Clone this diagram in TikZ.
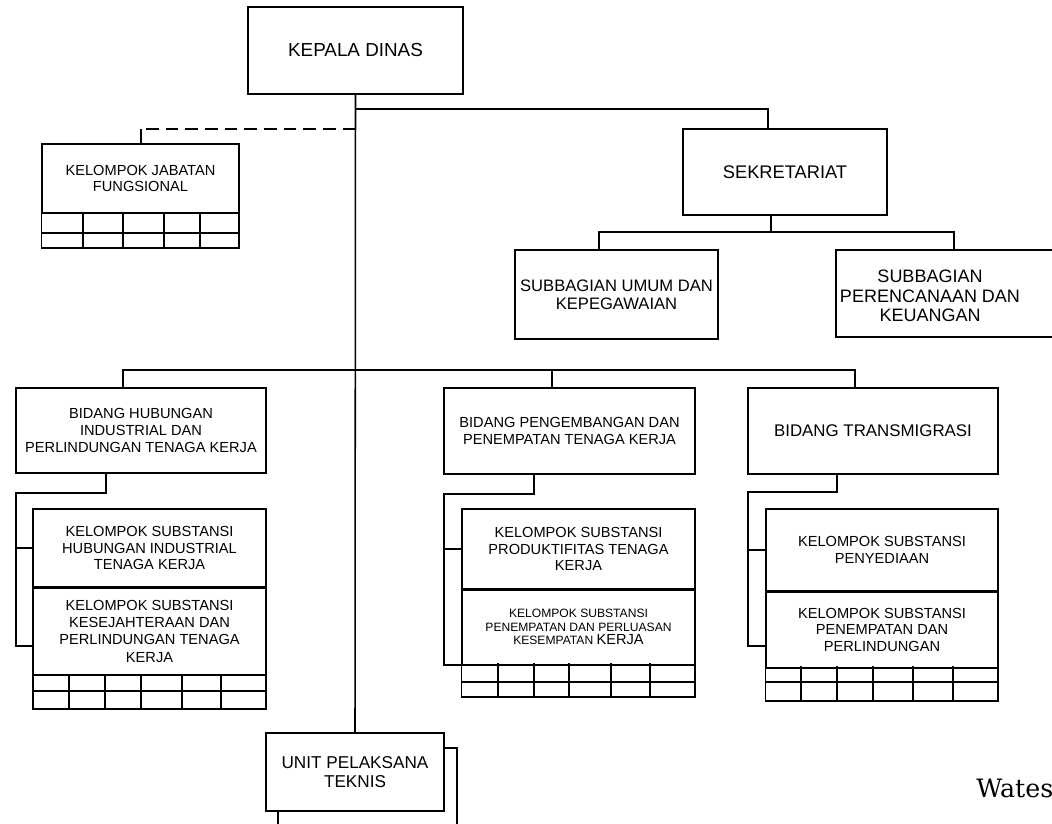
\documentclass[tikz,border=0pt]{standalone}
\usepackage{fontspec}
\setmainfont{Liberation Sans}
\newfontfamily\watesfont{DejaVu Serif}
\usetikzlibrary{positioning}
\tikzset{
  unitbox/.style={draw,line width=.9pt,inner sep=0pt,align=center},
  bigtxt/.style={font=\fontsize{12.3}{13}\selectfont},
  midtxt/.style={font=\fontsize{10.4}{11.8}\selectfont},
  link/.style={line width=1.1pt},
  gridline/.style={line width=.9pt},
}

\begin{document}
\begin{tikzpicture}[x=0.025cm,y=-0.025cm]
\useasboundingbox (0,0) rectangle (1052,823);
\clip (0,0) rectangle (1052,823);

% top level
\node[unitbox,font=\fontsize{13.4}{14}\selectfont,minimum width=5.375cm,minimum height=2.175cm]
  (kadis) at (355.5,50.5) {KEPALA DINAS};
\node[unitbox,midtxt,minimum width=4.925cm,minimum height=1.725cm]
  (kjf) at (140.5,178.5) {KELOMPOK JABATAN\\FUNGSIONAL};
\draw[gridline] (kjf.south west) rectangle (239,248);
\draw[gridline] (42,233) -- (239,233);
\foreach \x in {83,123,164,200} \draw[gridline] (\x,213) -- (\x,248);

% sekretariat
\node[unitbox,font=\fontsize{13}{14}\selectfont,minimum width=5.1cm,minimum height=2.15cm]
  (sek) at (785,172) {SEKRETARIAT};
\node[unitbox,font=\fontsize{11.8}{12.5}\selectfont,
  minimum width=5.075cm,minimum height=2.225cm]
  (umum) at (616.5,294.5) {SUBBAGIAN UMUM DAN\\KEPEGAWAIAN};
\node[unitbox,minimum width=6.1cm,minimum height=2.175cm]
  (renc) at (958,293.5) {};
\node[align=center,inner sep=0pt,font=\fontsize{12.8}{13.8}\selectfont]
  (renctxt) at (930,296) {SUBBAGIAN\\PERENCANAAN DAN\\KEUANGAN};

% bidang
\node[unitbox,midtxt,minimum width=6.25cm,minimum height=2.125cm]
  (bhi) at (141,430.5) {BIDANG HUBUNGAN\\INDUSTRIAL DAN\\PERLINDUNGAN TENAGA KERJA};
\node[unitbox,font=\fontsize{10.4}{12.5}\selectfont,
  minimum width=6.275cm,minimum height=2.15cm]
  (bpp) at (569.5,431) {BIDANG PENGEMBANGAN DAN\\PENEMPATAN TENAGA KERJA};
\node[unitbox,font=\fontsize{12}{13}\selectfont,
  minimum width=6.25cm,minimum height=2.15cm]
  (btr) at (873,431) {BIDANG TRANSMIGRASI};

% kelompok substansi
\node[unitbox,midtxt,minimum width=5.825cm,minimum height=1.95cm]
  (ksa) at (149.5,548) {KELOMPOK SUBSTANSI\\HUBUNGAN INDUSTRIAL\\TENAGA KERJA};
\node[unitbox,font=\fontsize{10.4}{12.3}\selectfont,
  minimum width=5.825cm,minimum height=2.15cm,below=0pt of ksa]
  (ksaa) {KELOMPOK SUBSTANSI\\KESEJAHTERAAN DAN\\PERLINDUNGAN TENAGA\\KERJA};
\draw[gridline] (33,675) rectangle (266,709);
\draw[gridline] (33,691) -- (266,691);
\foreach \x in {69,105,141,182,221} \draw[gridline] (\x,675) -- (\x,709);

\node[unitbox,midtxt,minimum width=5.825cm,minimum height=2cm]
  (ksb) at (578.5,549) {KELOMPOK SUBSTANSI\\PRODUKTIFITAS TENAGA\\KERJA};
\node[unitbox,font=\fontsize{8.6}{9.6}\selectfont,
  minimum width=5.825cm,minimum height=1.85cm,below=0pt of ksb]
  (ksbb) {KELOMPOK SUBSTANSI\\PENEMPATAN DAN PERLUASAN\\KESEMPATAN {\fontsize{10.4}{9.6}\selectfont KERJA}};
\draw[gridline] (ksbb.south west) rectangle (695,697);
\draw[gridline] (462,682) -- (695,682);
\foreach \x in {498,534,569,611,650} \draw[gridline] (\x,663) -- (\x,697);

\node[unitbox,midtxt,minimum width=5.8cm,minimum height=2.05cm]
  (ksc) at (882,550) {KELOMPOK SUBSTANSI\\PENYEDIAAN};
\node[unitbox,midtxt,minimum width=5.8cm,minimum height=1.875cm,below=0pt of ksc]
  (kscc) {KELOMPOK SUBSTANSI\\PENEMPATAN DAN\\PERLINDUNGAN};
\draw[gridline] (kscc.south west) rectangle (998,701);
\draw[gridline] (766,682) -- (998,682);
\foreach \x in {801,837,873,913,953} \draw[gridline] (\x,666) -- (\x,701);

% upt
\draw[gridline] (278,748) rectangle (457,840);
\node[unitbox,fill=white,font=\fontsize{12.2}{13}\selectfont,
  minimum width=4.45cm,minimum height=1.95cm]
  (upt) at (355,772) {UNIT PELAKSANA\\TEKNIS};

% connectors
\coordinate (sekjoin) at (768,109);
\coordinate (kjfjoin) at (141,129);
\draw[link] (kadis.south) -- (upt.north);
\draw[link] (kadis.south |- sekjoin) -- (sekjoin) -- (sekjoin |- sek.north);
\draw[link,dash pattern=on 9pt off 5pt,line width=1.5pt]
  (kadis.south |- kjfjoin) -- (kjfjoin);
\draw[link,line width=1.5pt] (kjfjoin) -- (kjfjoin |- kjf.north);

\coordinate (sekbar) at (771,232);
\coordinate (umumjoin) at (599,232);
\coordinate (rencjoin) at (954,232);
\draw[link] (sekbar |- sek.south) -- (sekbar);
\draw[link] (umumjoin |- umum.north) -- (umumjoin) -- (rencjoin) -- (rencjoin |- renc.north);

\coordinate (bhijoin) at (123,370);
\coordinate (bppjoin) at (552,370);
\coordinate (btrjoin) at (855,370);
\draw[link,line width=1.4pt] (bhijoin |- bhi.north) -- (bhijoin) -- (btrjoin) -- (btrjoin |- btr.north);
\draw[link] (bppjoin) -- (bppjoin |- bpp.north);

\coordinate (bhia) at (106,493);
\coordinate (bhib) at (16,493);
\coordinate (bhic) at (16,646);
\draw[link] (bhia |- bhi.south) -- (bhia) -- (bhib) -- (bhic) -- (bhic -| ksaa.west);
\draw[link] (bhib |- ksa.west) -- (ksa.west);

\coordinate (bppa) at (534,494);
\coordinate (bppb) at (444,494);
\coordinate (bppc) at (444,665);
\draw[link] (bppa |- bpp.south) -- (bppa) -- (bppb) -- (bppc) -- (bppc -| ksbb.west);
\draw[link] (bppb |- ksb.west) -- (ksb.west);

\coordinate (btra) at (837,492);
\coordinate (btrb) at (748,492);
\coordinate (btrc) at (748,646);
\draw[link] (btra |- btr.south) -- (btra) -- (btrb) -- (btrc) -- (btrc -| kscc.west);
\draw[link] (btrb |- ksc.west) -- (ksc.west);

\node[font=\watesfont\fontsize{18}{20}\selectfont,anchor=base west,inner sep=0pt]
  (wates) at (976,797) {Wates};
\end{tikzpicture}
\end{document}
